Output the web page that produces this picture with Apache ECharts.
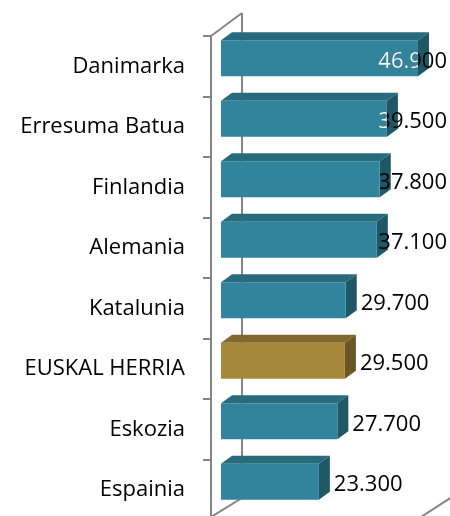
<!DOCTYPE html>
<html>
<head>
<meta charset="utf-8">
<script src="https://cdn.jsdelivr.net/npm/echarts@6/dist/echarts.min.js"></script>
<style>
  html, body { margin: 0; padding: 0; background: #fff; }
  #chart { width: 450px; height: 516px; }
</style>
</head>
<body>
<div id="chart"></div>
<script>
// data, top to bottom
const countries = ['Danimarka', 'Erresuma Batua', 'Finlandia', 'Alemania', 'Katalunia', 'EUSKAL HERRIA', 'Eskozia', 'Espainia']
const values = [46900, 39500, 37800, 37100, 29700, 29500, 27700, 23300]
const highlight = 'EUSKAL HERRIA'
const axisMax = 50000

const labelFont = '22px "Open Sans"'
const teal = { front: '#31849b', top: '#286b7d', side: '#205766' }
const gold = { front: '#a6883a', top: '#806830', side: '#6b5627' }
const frameColor = '#858585'

// thousands with a dot, like 46.900
const fmt = v => String(v).replace(/\B(?=(\d{3})+(?!\d))/g, '.')

const measureCtx = document.createElement('canvas').getContext('2d')
const textWidth = (t, font) => {
    measureCtx.font = font
    return measureCtx.measureText(t).width
}

const barShift = 10   // bars stand a bit in front of the left wall
const depthX = 11, depthY = 8   // bar 3d depth

const renderFrame = (params, api) => {
    const first = api.coord([0, 0])
    const band = api.size([0, 1])[1]
    const x0 = first[0]
    const yTop = first[1] - band / 2
    const yBot = yTop + band * countries.length
    const xMax = api.coord([axisMax, 0])[0]
    const ls = { stroke: frameColor, lineWidth: 2 }
    return {
        type: 'group',
        children: [
            { type: 'line', shape: { x1: x0, y1: yTop, x2: x0 + 31, y2: yTop - 23 }, style: ls },
            { type: 'line', shape: { x1: x0 + 31, y1: yTop - 23, x2: x0 + 31, y2: yBot - 22 }, style: ls },
            { type: 'line', shape: { x1: x0, y1: yBot - 3, x2: x0 + 31, y2: yBot - 22 }, style: ls },
            { type: 'line', shape: { x1: xMax, y1: yBot - 3, x2: xMax + 31, y2: yBot - 23 }, style: ls }
        ]
    }
}

const renderBar = (params, api) => {
    const v = api.value(0)
    const idx = api.value(1)
    const start = api.coord([0, idx])
    const end = api.coord([v, idx])
    const band = api.size([0, 1])[1]
    const c = start[1]
    const top = c - band * 0.43
    const bottom = c + band * 0.165
    const x0 = start[0] + barShift
    const x1 = end[0] + barShift
    const col = countries[params.dataIndex] === highlight ? gold : teal

    const text = fmt(v)
    const w = textWidth(text, labelFont)
    const lx = Math.min(x1 + depthX + 4, api.getWidth() - 3 - w)
    const ly = c - band * 0.08
    const txtStyle = fill => ({
        text: text, x: lx, y: ly, fill: fill, font: labelFont,
        align: 'left', verticalAlign: 'middle'
    })

    return {
        type: 'group',
        children: [
            {
                type: 'polygon',
                shape: { points: [[x0, top], [x0 + depthX, top - depthY], [x1 + depthX, top - depthY], [x1, top]] },
                style: { fill: col.top }
            },
            {
                type: 'polygon',
                shape: { points: [[x1, top], [x1 + depthX, top - depthY], [x1 + depthX, bottom - depthY], [x1, bottom]] },
                style: { fill: col.side }
            },
            {
                type: 'rect',
                shape: { x: x0, y: top, width: x1 - x0, height: bottom - top },
                style: { fill: col.front }
            },
            { type: 'text', style: txtStyle('#000') },
            {
                type: 'text',
                style: txtStyle('#fff'),
                clipPath: { type: 'rect', shape: { x: x0, y: top, width: x1 - x0, height: bottom - top } }
            }
        ]
    }
}

const chart = echarts.init(document.getElementById('chart'))
chart.setOption({
    animation: false,
    grid: { left: 211, top: 36, width: 210, height: 484, outerBoundsMode: 'none' },
    xAxis: { type: 'value', min: 0, max: axisMax, show: false },
    yAxis: {
        type: 'category',
        data: countries,
        inverse: true,
        axisLine: { show: true, lineStyle: { color: frameColor, width: 2 } },
        axisTick: { show: true, length: 8, lineStyle: { color: frameColor, width: 2 } },
        splitLine: { show: false },
        axisLabel: {
            color: '#000',
            fontFamily: 'Open Sans',
            fontSize: 22,
            margin: 26,
            padding: [6, 0, 0, 0]
        }
    },
    series: [
        {
            type: 'custom',
            z: 1,
            clip: false,
            renderItem: renderFrame,
            data: [[0, 0]],
            encode: { x: 0, y: 1 },
            silent: true
        },
        {
            type: 'custom',
            z: 2,
            clip: false,
            renderItem: renderBar,
            data: values.map((v, i) => [v, i]),
            encode: { x: 0, y: 1 }
        }
    ]
})
</script>
</body>
</html>
